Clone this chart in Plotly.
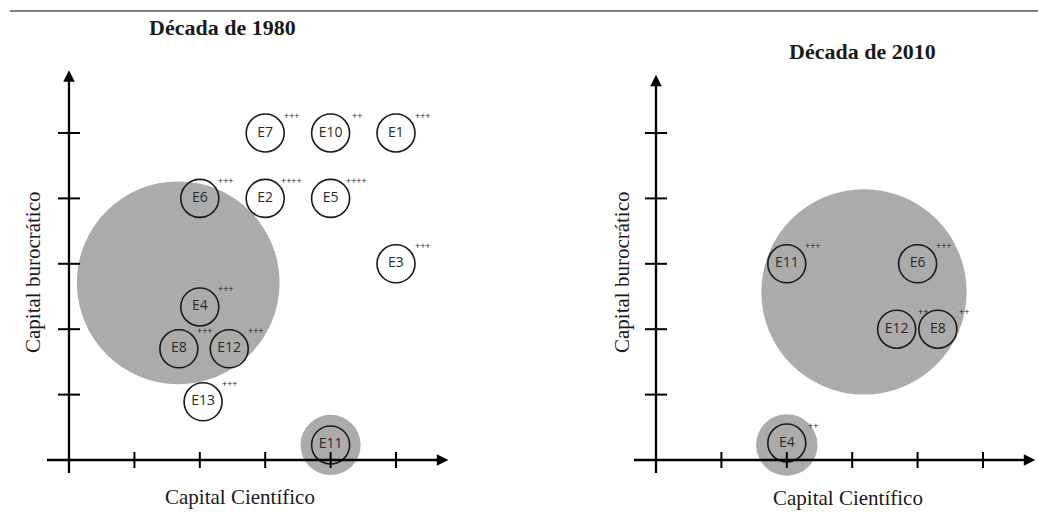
import plotly.graph_objects as go

# ---------------- data ----------------
left_labels = ["E7", "E10", "E1", "E6", "E2", "E5", "E3", "E4", "E8", "E12", "E13", "E11"]
left_x = [3, 4, 5, 2, 3, 4, 5, 2, 1.68, 2.45, 2.05, 4]
left_y = [5, 5, 5, 4, 4, 4, 3, 2.34, 1.70, 1.70, 0.89, 0.23]
left_marks = ["+++", "++", "+++", "+++", "++++", "++++", "+++", "+++", "+++", "+++", "+++", ""]

right_labels = ["E11", "E6", "E12", "E8", "E4"]
right_x = [2, 4, 3.68, 4.31, 2]
right_y = [3, 3, 2, 2, 0.26]
right_marks = ["+++", "+++", "++", "++", "++"]

left_groups_x = [1.67, 4.0]
left_groups_y = [2.71, 0.23]
left_groups_r = [1.55, 0.46]

right_groups_x = [3.18, 2.0]
right_groups_y = [2.57, 0.23]
right_groups_r = [1.57, 0.47]

tick_values = [1, 2, 3, 4, 5]

titles = ["Década de 1980", "Década de 2010"]
x_title = "Capital Científico"
y_title = "Capital burocrático"

# ---------------- layout geometry ----------------
W, H = 1038, 527
PX = 65.4  # pixels per unit
panels = [
    dict(xa="x", ya="y", origin_px=69, dom=[0, 0.5], x_end=5.8, y_end=5.96,
         labels=left_labels, xs=left_x, ys=left_y, marks=left_marks,
         gx=left_groups_x, gy=left_groups_y, gr=left_groups_r),
    dict(xa="x2", ya="y2", origin_px=656, dom=[0.5, 1.0], x_end=5.8, y_end=5.89,
         labels=right_labels, xs=right_x, ys=right_y, marks=right_marks,
         gx=right_groups_x, gy=right_groups_y, gr=right_groups_r),
]
origin_y_px = 460

fig = go.Figure()
shapes = []
annotations = []
GRAY = "#ababab"
SERIF = "Liberation Serif"
SANS = "Open Sans"

for p in panels:
    # gray group circles
    for cx, cy, r in zip(p["gx"], p["gy"], p["gr"]):
        shapes.append(dict(type="circle", xref=p["xa"], yref=p["ya"],
                           x0=cx - r, x1=cx + r, y0=cy - r, y1=cy + r,
                           fillcolor=GRAY, line=dict(width=0), layer="below"))
    # entity circles
    fig.add_trace(go.Scatter(
        x=p["xs"], y=p["ys"], text=p["labels"], mode="markers+text",
        xaxis=p["xa"], yaxis=p["ya"],
        marker=dict(size=38, color="rgba(0,0,0,0)",
                    line=dict(color="#1a1a1a", width=1.6)),
        textposition="middle center",
        textfont=dict(family=SANS, size=14, color="#2a2a2a"),
        hoverinfo="skip", showlegend=False))
    # +++ marks
    for x, y, m in zip(p["xs"], p["ys"], p["marks"]):
        if m:
            annotations.append(dict(x=x, y=y, xref=p["xa"], yref=p["ya"], text=m,
                                    showarrow=False, xshift=26, yshift=18,
                                    font=dict(family=SANS, size=9, color="#222")))
    # axes with arrows
    annotations.append(dict(x=p["x_end"], y=0, ax=-0.36, ay=0,
                            xref=p["xa"], yref=p["ya"], axref=p["xa"], ayref=p["ya"],
                            text="", showarrow=True, arrowhead=2, arrowsize=1,
                            arrowwidth=2.3, arrowcolor="black"))
    annotations.append(dict(x=0, y=p["y_end"], ax=0, ay=-0.22,
                            xref=p["xa"], yref=p["ya"], axref=p["xa"], ayref=p["ya"],
                            text="", showarrow=True, arrowhead=2, arrowsize=1,
                            arrowwidth=2.3, arrowcolor="black"))
    # tick marks
    for t in tick_values:
        shapes.append(dict(type="line", xref=p["xa"], yref=p["ya"],
                           x0=t, x1=t, ysizemode="pixel", yanchor=0, y0=-8, y1=8,
                           line=dict(color="black", width=2), layer="above"))
        shapes.append(dict(type="line", xref=p["xa"], yref=p["ya"],
                           y0=t, y1=t, xsizemode="pixel", xanchor=0, x0=-11, x1=11,
                           line=dict(color="black", width=2), layer="above"))

# top rule
shapes.append(dict(type="line", xref="paper", yref="paper", x0=10 / W, x1=1.0,
                   y0=1 - 11 / H, y1=1 - 11 / H, line=dict(color="#555", width=1.5)))

# titles and axis labels
title_pos = [(222, 27), (862, 52)]
xlab_pos = [(240, 497), (848, 498)]
ylab_pos = [(33, 272), (622, 272)]
for t, (tx, ty) in zip(titles, title_pos):
    annotations.append(dict(x=tx / W, y=1 - ty / H, xref="paper", yref="paper",
                            xanchor="center", yanchor="middle",
                            text="<b>" + t + "</b>", showarrow=False,
                            font=dict(family=SERIF, size=22, color="#1a1a1a")))
for (tx, ty) in xlab_pos:
    annotations.append(dict(x=tx / W, y=1 - ty / H, xref="paper", yref="paper",
                            xanchor="center", yanchor="middle",
                            text=x_title, showarrow=False,
                            font=dict(family=SERIF, size=21, color="#1a1a1a")))
for (tx, ty) in ylab_pos:
    annotations.append(dict(x=tx / W, y=1 - ty / H, xref="paper", yref="paper",
                            xanchor="center", yanchor="middle",
                            text=y_title, showarrow=False, textangle=-90,
                            font=dict(family=SERIF, size=21, color="#1a1a1a")))

axis_common = dict(showgrid=False, zeroline=False, showticklabels=False,
                   ticks="", showline=False, fixedrange=True)
yr = [-(H - origin_y_px) / PX, origin_y_px / PX]
for i, p in enumerate(panels):
    x0u = -(p["origin_px"] - p["dom"][0] * W) / PX
    xr = [x0u, x0u + (p["dom"][1] - p["dom"][0]) * W / PX]
    sfx = "" if i == 0 else "2"
    fig.update_layout(**{
        "xaxis" + sfx: dict(domain=p["dom"], range=xr, anchor="y" + sfx, **axis_common),
        "yaxis" + sfx: dict(domain=[0, 1], range=yr, anchor="x" + sfx, **axis_common),
    })

fig.update_layout(width=W, height=H, margin=dict(l=0, r=0, t=0, b=0),
                  paper_bgcolor="white", plot_bgcolor="white",
                  shapes=shapes, annotations=annotations, showlegend=False)

fig.write_html("out.html", config={"displayModeBar": False},
               post_script="document.body.style.margin='0';")
